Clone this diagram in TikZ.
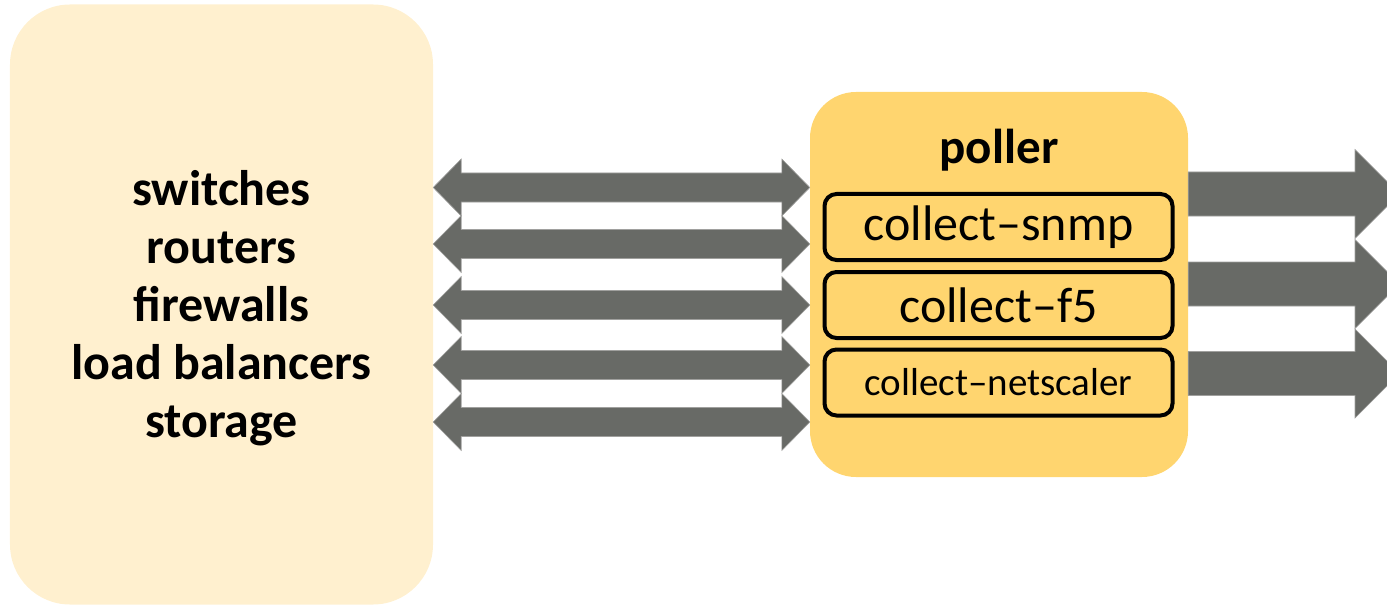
\documentclass[tikz,border=0pt]{standalone}
\usepackage{fontspec}
\setmainfont{Carlito}
\usetikzlibrary{calc}
\definecolor{creambox}{HTML}{FFF0CF}
\definecolor{pollerbox}{HTML}{FFD56F}
\definecolor{arrowgrey}{HTML}{686A66}
\definecolor{arrowedge}{HTML}{A0A09E}
\tikzset{
  devbox/.style={fill=creambox, rounded corners=60bp, minimum width=423bp, minimum height=600bp, inner sep=0},
  pollbox/.style={fill=pollerbox, rounded corners=46bp, minimum width=378bp, minimum height=385bp, inner sep=0},
  collbox/.style={draw=black, line width=4bp, rounded corners=12bp, fill=pollerbox, minimum width=348bp, minimum height=66bp, inner sep=0},
  blockarrow/.style={fill=arrowgrey, draw=arrowedge, line width=0.6bp},
}
\begin{document}
\begin{tikzpicture}[x=1bp,y=-1bp]
\useasboundingbox (0,0) rectangle (1387,605);
\clip (0,0) rectangle (1387,605);
\node[devbox] (dev) at (221.5,304.5) {};
\node[pollbox] (poll) at (999,284.5) {};
\node[font=\fontsize{50bp}{58bp}\selectfont\bfseries, align=center] (devtxt) at (221.5,308) {switches\\routers\\firewalls\\load balancers\\storage};
\node[font=\fontsize{49bp}{52bp}\selectfont\bfseries] (polltxt) at (999,150) {poller};
\node[collbox, font=\fontsize{50bp}{52bp}\selectfont] (snmp) at (998.5,227) {collect–snmp};
\node[collbox, font=\fontsize{50bp}{52bp}\selectfont] (f5) at (998.5,305) {collect–f5};
\node[collbox, font=\fontsize{39bp}{42bp}\selectfont] (ns) at (998.5,382.5) {collect–netscaler};
\foreach \y/\n in {187.5/a1,244/a2,305/a3,365/a4,422/a5}{
  \coordinate (l\n) at (dev.east |- 0,\y);
  \coordinate (r\n) at (poll.west |- 0,\y);
  \draw[blockarrow] (l\n) -- ++(28,-28.5) -- ++(0,14) -- ($(r\n)+(-28,-14.5)$) -- ++(0,-14) -- (r\n)
     -- ++(-28,28.5) -- ++(0,-14) -- ($(l\n)+(28,14.5)$) -- ++(0,14) -- cycle;
}
\foreach \y/\n in {194/b1,284/b2,373.5/b3}{
  \coordinate (s\n) at (poll.east |- 0,\y);
  \coordinate (e\n) at (1399.5,\y);
  \draw[blockarrow] ($(s\n)+(0,-22)$) -- ($(e\n)+(-44.5,-22)$) -- ++(0,-22.5) -- (e\n) -- ++(-44.5,44.5) -- ++(0,-22.5) -- ($(s\n)+(0,22)$) -- cycle;
}
\end{tikzpicture}
\end{document}
